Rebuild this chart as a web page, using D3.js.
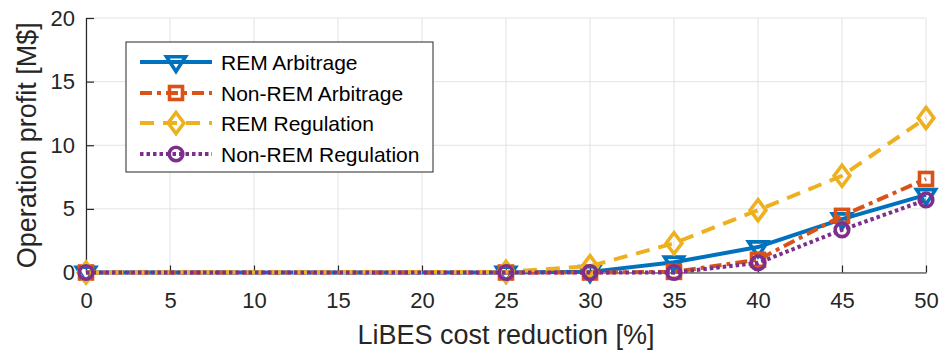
<!DOCTYPE html>
<html>
<head>
<meta charset="utf-8">
<script src="https://cdn.jsdelivr.net/npm/d3@7"></script>
<style>
  html, body { margin: 0; padding: 0; background: #fff; }
  svg { display: block; font-family: "Liberation Sans", Arial, sans-serif; }
</style>
</head>
<body>
<svg id="chart" width="941" height="352"></svg>
<script>
// LiBES cost reduction levels (%)
const costReduction = [0, 25, 30, 35, 40, 45, 50];

// Operation profit (M$) for each strategy
const remArbitrage      = [0, 0, 0.05, 0.8, 2.0, 4.2, 6.1];
const nonRemArbitrage   = [0, 0, 0, 0.05, 1.0, 4.45, 7.35];
const remRegulation     = [0, 0.05, 0.5, 2.3, 4.9, 7.6, 12.15];
const nonRemRegulation  = [0, 0, 0, 0, 0.75, 3.35, 5.7];

const seriesNames = ["REM Arbitrage", "Non-REM Arbitrage", "REM Regulation", "Non-REM Regulation"];
const seriesColors = ["#0072BD", "#D95319", "#EDB120", "#7E2F8E"];
const seriesDash = [null, "12,5,4,5", "14,9", "3.5,3"];
const seriesMarker = ["triangle", "square", "diamond", "circle"];
const seriesValues = [remArbitrage, nonRemArbitrage, remRegulation, nonRemRegulation];

const xTicks = [0, 5, 10, 15, 20, 25, 30, 35, 40, 45, 50];
const yTicks = [0, 5, 10, 15, 20];

const svg = d3.select("#chart");
const ink = "#262626";

const x = d3.scaleLinear().domain([0, 50]).range([86, 926]);
const y = d3.scaleLinear().domain([0, 20]).range([272.5, 18]);

// grid
const grid = svg.append("g").attr("stroke", "#e3e3e3").attr("stroke-width", 1);
grid.selectAll(".gx").data(xTicks).join("line")
  .attr("x1", d => x(d)).attr("x2", d => x(d))
  .attr("y1", y(0)).attr("y2", y(20));
grid.selectAll(".gy").data(yTicks).join("line")
  .attr("x1", x(0)).attr("x2", x(50))
  .attr("y1", d => y(d)).attr("y2", d => y(d));

// axes with inward ticks
const xAxis = svg.append("g").attr("transform", `translate(0,${y(0)})`)
  .call(d3.axisBottom(x).tickValues(xTicks).tickSizeInner(-7).tickSizeOuter(0).tickPadding(19.5));
const yAxis = svg.append("g").attr("transform", `translate(${x(0)},0)`)
  .call(d3.axisLeft(y).tickValues(yTicks).tickSizeInner(-8).tickSizeOuter(0).tickPadding(11));
[xAxis, yAxis].forEach(a => {
  a.select(".domain").attr("stroke", ink).attr("stroke-width", 1.2);
  a.selectAll(".tick line").attr("stroke", ink).attr("stroke-width", 1.2);
  a.selectAll(".tick text").attr("fill", ink).attr("font-size", 22)
    .attr("font-family", "Liberation Sans, Arial, sans-serif");
});

// axis titles
svg.append("text").attr("x", x(25)).attr("y", 344).attr("text-anchor", "middle")
  .attr("font-size", 27).attr("fill", ink).text("LiBES cost reduction [%]");
svg.append("text").attr("transform", `translate(36,${y(10)}) rotate(-90)`)
  .attr("text-anchor", "middle").attr("font-size", 27).attr("fill", ink)
  .text("Operation profit [M$]");

// marker drawing
function marker(g, type, cx, cy, color) {
  const sw = 3.6;
  if (type === "triangle") {
    const s = 9.5;
    g.append("path").attr("d", `M${cx - s},${cy - s * 0.55}L${cx + s},${cy - s * 0.55}L${cx},${cy + s}Z`)
      .attr("fill", "none").attr("stroke", color).attr("stroke-width", sw).attr("stroke-linejoin", "miter");
  } else if (type === "square") {
    const s = 6.5;
    g.append("rect").attr("x", cx - s).attr("y", cy - s).attr("width", 2 * s).attr("height", 2 * s)
      .attr("fill", "none").attr("stroke", color).attr("stroke-width", sw);
  } else if (type === "diamond") {
    const s = 10.5;
    g.append("path").attr("d", `M${cx},${cy - s}L${cx + s * 0.75},${cy}L${cx},${cy + s}L${cx - s * 0.75},${cy}Z`)
      .attr("fill", "none").attr("stroke", color).attr("stroke-width", sw);
  } else {
    g.append("circle").attr("cx", cx).attr("cy", cy).attr("r", 6.8)
      .attr("fill", "none").attr("stroke", color).attr("stroke-width", sw);
  }
}

const line = d3.line().x((d, i) => x(costReduction[i])).y(d => y(d));

seriesValues.forEach((vals, k) => {
  const g = svg.append("g");
  g.append("path").datum(vals).attr("d", line)
    .attr("fill", "none").attr("stroke", seriesColors[k]).attr("stroke-width", 4)
    .attr("stroke-dasharray", seriesDash[k]);
  vals.forEach((v, i) => marker(g, seriesMarker[k], x(costReduction[i]), y(v), seriesColors[k]));
});

// legend
const lg = svg.append("g");
lg.append("rect").attr("x", 126).attr("y", 42).attr("width", 307).attr("height", 130)
  .attr("fill", "#fff").attr("stroke", ink).attr("stroke-width", 1);
const rowY = [62, 93, 123, 154];
seriesNames.forEach((name, k) => {
  const yy = rowY[k];
  lg.append("line").attr("x1", 140).attr("x2", 212).attr("y1", yy).attr("y2", yy)
    .attr("stroke", seriesColors[k]).attr("stroke-width", 4).attr("stroke-dasharray", seriesDash[k]);
  marker(lg, seriesMarker[k], 176, yy, seriesColors[k]);
  lg.append("text").attr("x", 221).attr("y", yy + 7.5).attr("font-size", 21).attr("fill", "#000")
    .text(name);
});
</script>
</body>
</html>
